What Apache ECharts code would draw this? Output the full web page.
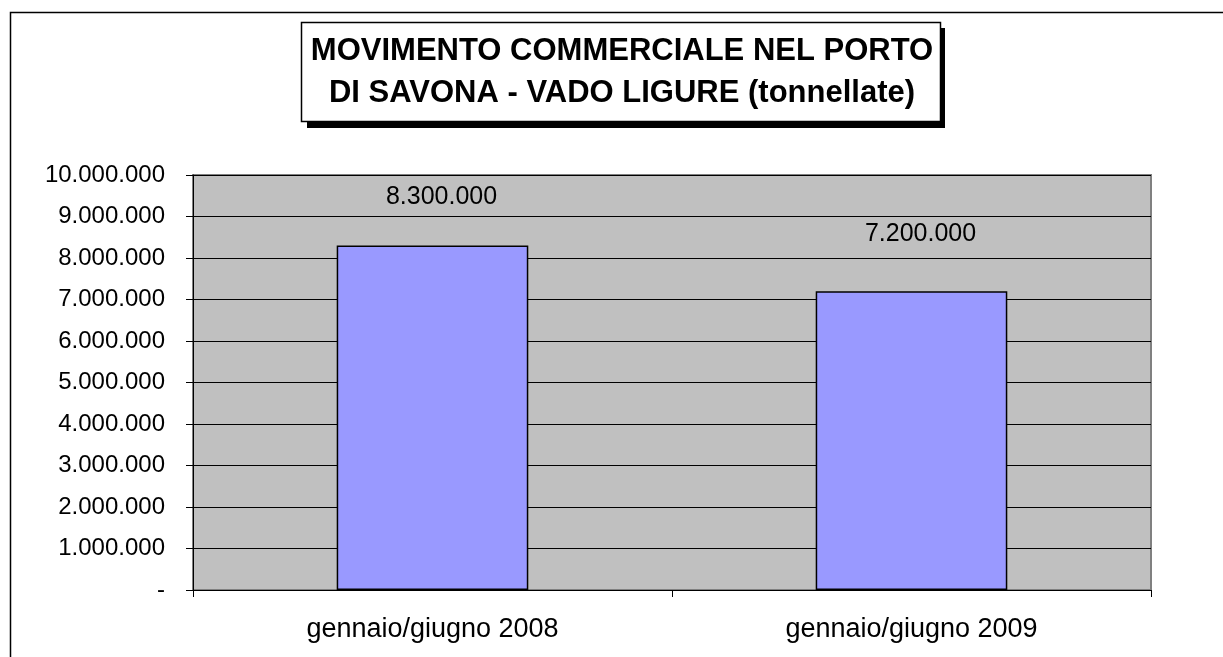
<!DOCTYPE html>
<html>
<head>
<meta charset="utf-8">
<title>Movimento commerciale porto di Savona - Vado Ligure</title>
<script src="https://cdn.jsdelivr.net/npm/echarts@6/dist/echarts.min.js"></script>
<style>
  html, body { margin: 0; padding: 0; background: #fff; }
  #chart { width: 1223px; height: 657px; }
</style>
</head>
<body>
<div id="chart"></div>
<script>
// data
const categories = ['gennaio/giugno 2008', 'gennaio/giugno 2009']
const tonnes = [8300000, 7200000]
const labelGap = [36, 45]
const titleLines = ['MOVIMENTO COMMERCIALE NEL PORTO', 'DI SAVONA - VADO LIGURE (tonnellate)']

const FONT = '"Liberation Sans", Arial, sans-serif'

function fmt(v) {
  if (v === 0) return '-'
  return String(v).replace(/\B(?=(\d{3})+(?!\d))/g, '.')
}

const chart = echarts.init(document.getElementById('chart'), null, { renderer: 'canvas' })

const option = {
  animation: false,
  textStyle: { fontFamily: FONT },
  grid: {
    left: 193,
    right: 72,
    top: 175,
    bottom: 67,
    show: true,
    backgroundColor: '#c0c0c0',
    borderColor: '#808080',
    borderWidth: 2
  },
  graphic: [
    // outer frame (left and top edges visible)
    {
      type: 'rect',
      z: 0,
      shape: { x: 10.5, y: 12.5, width: 1300, height: 700 },
      style: { fill: 'none', stroke: '#000', lineWidth: 1.5 }
    },
    // title box shadow
    {
      type: 'rect',
      z: 10,
      shape: { x: 307, y: 28, width: 638, height: 100 },
      style: { fill: '#000' }
    },
    {
      type: 'rect',
      z: 11,
      shape: { x: 301.5, y: 22.5, width: 639, height: 99 },
      style: { fill: '#fff', stroke: '#000', lineWidth: 1.5 }
    },
    {
      type: 'text',
      z: 12,
      x: 622,
      y: 51,
      style: {
        text: titleLines[0],
        fill: '#000',
        font: 'bold 31px ' + FONT,
        align: 'center',
        verticalAlign: 'middle'
      }
    },
    {
      type: 'text',
      z: 12,
      x: 622,
      y: 93,
      style: {
        text: titleLines[1],
        fill: '#000',
        font: 'bold 31px ' + FONT,
        align: 'center',
        verticalAlign: 'middle'
      }
    }
  ],
  xAxis: {
    type: 'category',
    data: categories,
    axisLine: { show: true, lineStyle: { color: '#000', width: 1 } },
    axisTick: { show: true, length: 7, alignWithLabel: false, lineStyle: { color: '#000' } },
    axisLabel: { color: '#000', fontSize: 27, fontFamily: FONT, margin: 26 },
    splitLine: { show: false }
  },
  yAxis: {
    type: 'value',
    min: 0,
    max: 10000000,
    interval: 1000000,
    axisLine: { show: true, lineStyle: { color: '#000', width: 1 } },
    axisTick: { show: true, length: 7, lineStyle: { color: '#000' } },
    axisLabel: {
      color: '#000',
      fontSize: 24,
      fontFamily: FONT,
      margin: 28,
      formatter: fmt
    },
    splitLine: { show: true, lineStyle: { color: '#000', width: 1 } }
  },
  series: [
    {
      type: 'bar',
      barWidth: '40%',
      data: tonnes.map((v, i) => ({
        value: v,
        label: { distance: labelGap[i] }
      })),
      itemStyle: {
        color: '#9999ff',
        borderColor: '#000',
        borderWidth: 1.5
      },
      label: {
        show: true,
        position: 'top',
        offset: [9, 0],
        color: '#000',
        fontSize: 25,
        fontFamily: FONT,
        formatter: p => fmt(p.value)
      }
    }
  ]
}

chart.setOption(option)
</script>
</body>
</html>
